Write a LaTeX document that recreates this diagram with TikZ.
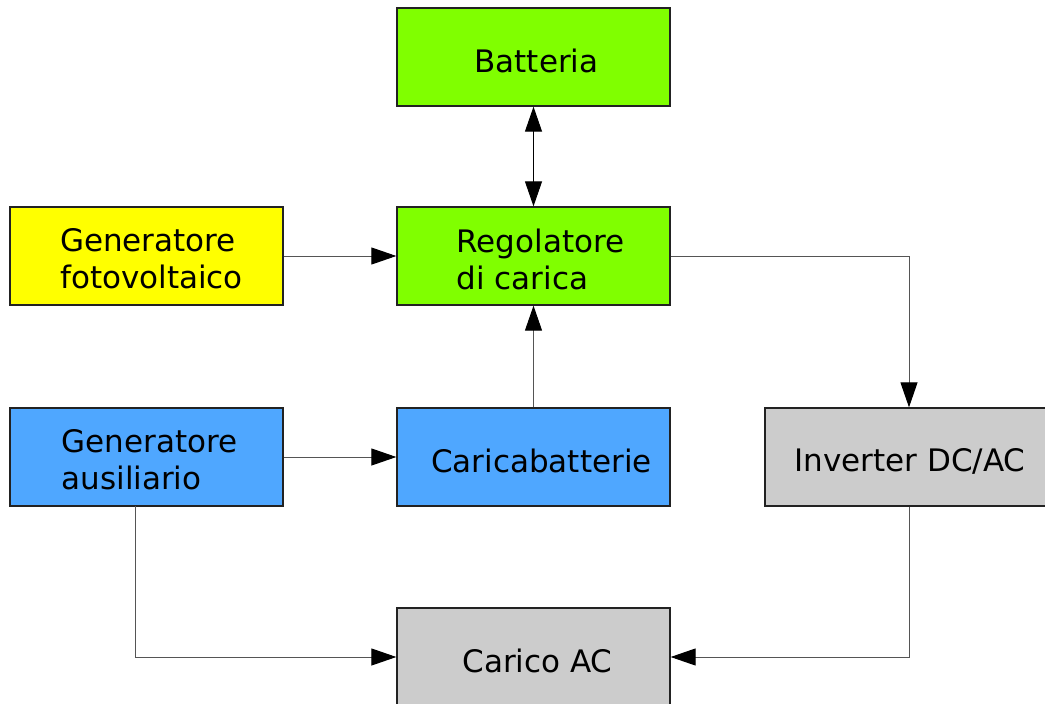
\documentclass[tikz,border=0pt]{standalone}
\usepackage{fontspec}
\setmainfont{DejaVu Sans}
\usetikzlibrary{arrows.meta}
\definecolor{cgreen}{HTML}{80FF00}
\definecolor{cyellow}{HTML}{FFFF00}
\definecolor{cblue}{HTML}{4FA7FF}
\definecolor{cgrey}{HTML}{CCCCCC}
\definecolor{cline}{HTML}{555555}
\definecolor{cborder}{HTML}{222222}
\begin{document}
\begin{tikzpicture}[x=1pt,y=-1pt,
  blk/.style={draw=cborder, line width=1.3pt, minimum width=273pt, minimum height=98pt, inner sep=0pt},
  txt/.style={inner sep=0pt, font=\fontsize{31}{37}\selectfont, align=left},
  conn/.style={draw=cline, line width=1pt, -{Triangle[length=25pt,width=17pt,color=black]}},
  biconn/.style={draw=black, line width=1pt, {Triangle[length=25pt,width=17pt,color=black]}-{Triangle[length=25pt,width=17pt,color=black]}}
]
\useasboundingbox (0,0) rectangle (1045,704);
\fill[white] (0,0) rectangle (1045,704);

\node[blk, fill=cgreen] (bat) at (533.5,57) {};
\node[blk, fill=cyellow] (pv) at (146.5,256) {};
\node[blk, fill=cgreen] (reg) at (533.5,256) {};
\node[blk, fill=cblue] (aux) at (146.5,457) {};
\node[blk, fill=cblue] (car) at (533.5,457) {};
\node[blk, fill=cgrey, minimum width=288pt] (inv) at (909,457) {};
\node[blk, fill=cgrey] (load) at (533.5,657) {};

\node[txt] (batT) at ([xshift=3pt,yshift=-4pt]bat.center) {Batteria};
\node[txt] (pvT) at ([xshift=5pt,yshift=-3pt]pv.center) {Generatore\\fotovoltaico};
\node[txt] (regT) at ([xshift=7pt,yshift=-3pt]reg.center) {Regolatore\\di carica};
\node[txt] (auxT) at ([xshift=3pt,yshift=-3pt]aux.center) {Generatore\\ausiliario};
\node[txt] (carT) at ([xshift=8pt,yshift=-4pt]car.center) {Caricabatterie};
\node[txt] (invT) at ([xshift=1pt,yshift=-4pt]inv.center) {Inverter DC/AC};
\node[txt] (loadT) at ([xshift=4pt,yshift=-4pt]load.center) {Carico AC};

\coordinate (auxs) at (135,506);

\draw[biconn] (bat) -- (reg);
\draw[conn] (pv) -- (reg);
\draw[conn] (reg.east) -| (inv.north);
\draw[conn] (car) -- (reg);
\draw[conn] (aux) -- (car);
\draw[conn] (auxs) |- (load.west);
\draw[conn] (inv.south) |- (load.east);
\end{tikzpicture}
\end{document}
